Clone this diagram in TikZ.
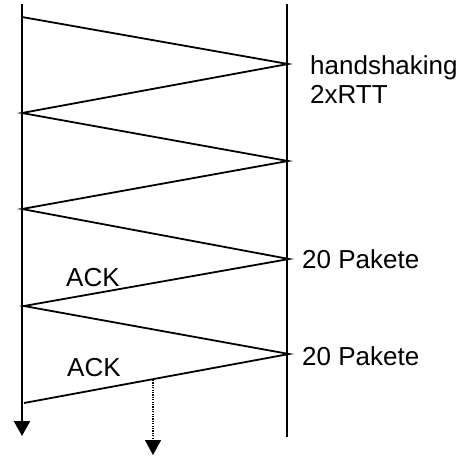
\documentclass[tikz,border=0pt]{standalone}
\usepackage{fontspec}
\setmainfont{Liberation Sans}
\usetikzlibrary{arrows.meta}
\begin{document}
\begin{tikzpicture}[x=1pt,y=-1pt,
  timeline/.style={line width=2.3pt,-{Triangle[width=16pt,length=15pt]}},
  plainline/.style={line width=2.3pt},
  msg/.style={line width=1.8pt},
  dotline/.style={line width=1.4pt,dash pattern=on 1.2pt off 1.2pt,-{Triangle[width=16pt,length=15pt]}},
  lbl/.style={anchor=base west,inner sep=0pt,font=\fontsize{26}{29}\selectfont,text=black}]
\useasboundingbox (0,0) rectangle (474,456);
\coordinate (Ltop) at (22,4);
\coordinate (Lbot) at (22,436);
\coordinate (Rtop) at (287,4);
\coordinate (Rbot) at (287,437);
\coordinate (L0) at (22,17);
\coordinate (R1) at (288,64);
\coordinate (L1) at (22,113);
\coordinate (R2) at (288,161);
\coordinate (L2) at (22,209);
\coordinate (R3) at (289,259);
\coordinate (L3) at (24,306);
\coordinate (R4) at (289,354);
\coordinate (L4) at (24,403);
\coordinate (D0) at (153,380);
\coordinate (D1) at (153,455);
\draw[timeline] (Ltop) -- (Lbot);
\draw[plainline] (Rtop) -- (Rbot);
\draw[msg] (L0) -- (R1) -- (L1) -- (R2) -- (L2) -- (R3) -- (L3) -- (R4) -- (L4);
\draw[dotline] (D0) -- (D1);
\node[lbl,align=left] (hs) at (310,103) {handshaking\\2xRTT};
\node[lbl] (p1) at (302,268) {20 Pakete};
\node[lbl] (p2) at (302,365) {20 Pakete};
\node[lbl] (a1) at (66,286) {ACK};
\node[lbl] (a2) at (67,376) {ACK};
\end{tikzpicture}
\end{document}
